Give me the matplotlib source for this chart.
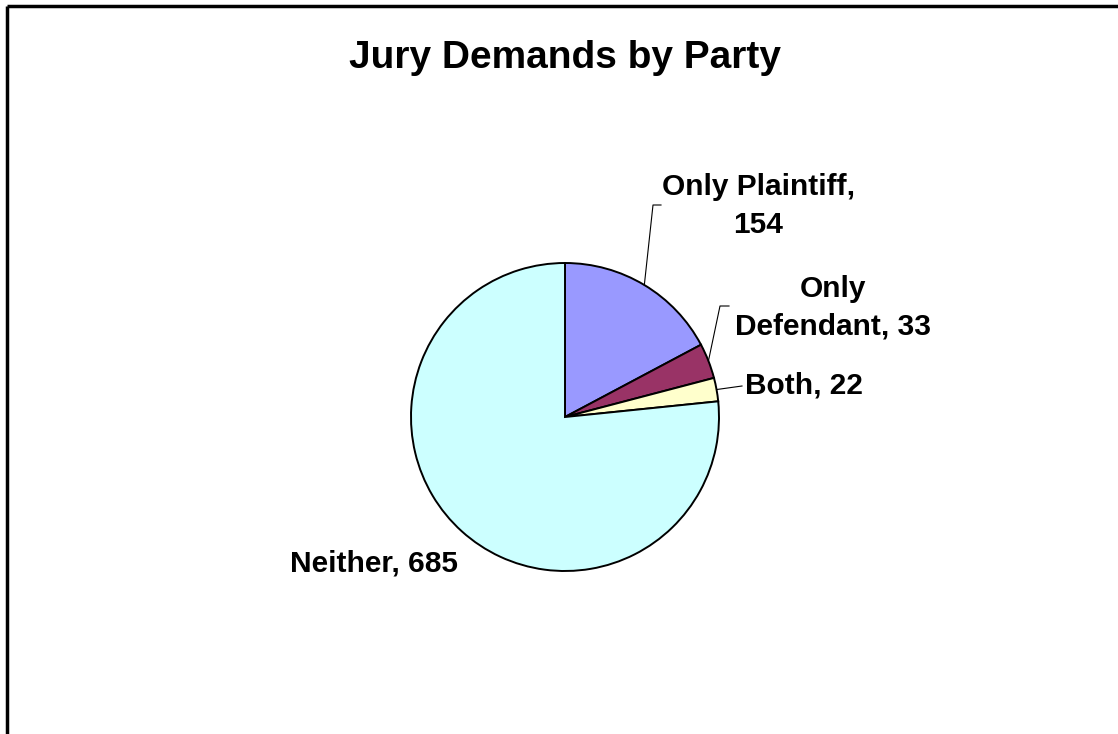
import numpy as np
import matplotlib.pyplot as plt

labels = ["Only Plaintiff", "Only Defendant", "Both", "Neither"]
counts = [154, 33, 22, 685]
colors = ["#9999FF", "#993366", "#FFFFCC", "#CCFFFF"]

W, H = 1118, 734
plt.rcParams['font.family'] = ['Liberation Sans', 'DejaVu Sans']

fig = plt.figure(figsize=(W / 100, H / 100), dpi=100)
ax = fig.add_axes([0, 0, 1, 1])

cx, cy, r = 565, H - 417, 154
wedges, _ = ax.pie(counts, colors=colors, startangle=90, counterclock=False,
                   center=(cx, cy), radius=r,
                   wedgeprops=dict(edgecolor="black", linewidth=1.4))
ax.set_xlim(0, W)
ax.set_ylim(0, H)
ax.set_aspect("equal")
ax.axis("off")

# frame (top and left edges visible)
ax.plot([7, W], [H - 6, H - 6], color="black", lw=2.5, solid_capstyle="butt")
ax.plot([7, 7], [H - 6, 0], color="black", lw=2.5, solid_capstyle="butt")

ax.text(565, H - 58, "Jury Demands by Party", ha="center", va="center",
        fontsize=28, fontweight="bold")

fs = 21.5
# mid angles of wedges (clockwise from top)
cum = np.cumsum([0] + counts)
tot = cum[-1]

def edge_pt(i):
    a = np.deg2rad(90 - 360 * (cum[i] + cum[i + 1]) / 2 / tot)
    return cx + r * np.cos(a), cy + r * np.sin(a)

# Only Plaintiff
x0, y0 = edge_pt(0)
ax.plot([x0, 653, 661], [y0, H - 205, H - 205], color="black", lw=0.8)
ax.text(758, H - 206, f"{labels[0]},\n{counts[0]}", ha="center", va="center",
        fontsize=fs, fontweight="bold", linespacing=1.45)

# Only Defendant
x0, y0 = edge_pt(1)
ax.plot([x0, 720, 729], [y0, H - 306, H - 306], color="black", lw=0.8)
ax.text(833, H - 308, "Only\nDefendant, " + str(counts[1]), ha="center", va="center",
        fontsize=fs, fontweight="bold", linespacing=1.45)

# Both
x0, y0 = edge_pt(2)
ax.plot([x0, 742], [y0, H - 386], color="black", lw=0.8)
ax.text(745, H - 386, f"{labels[2]}, {counts[2]}", ha="left", va="center",
        fontsize=fs, fontweight="bold")

# Neither
ax.text(290, H - 563, f"{labels[3]}, {counts[3]}", ha="left", va="center",
        fontsize=fs, fontweight="bold")

fig.savefig("out.png", dpi=100, facecolor="white")
